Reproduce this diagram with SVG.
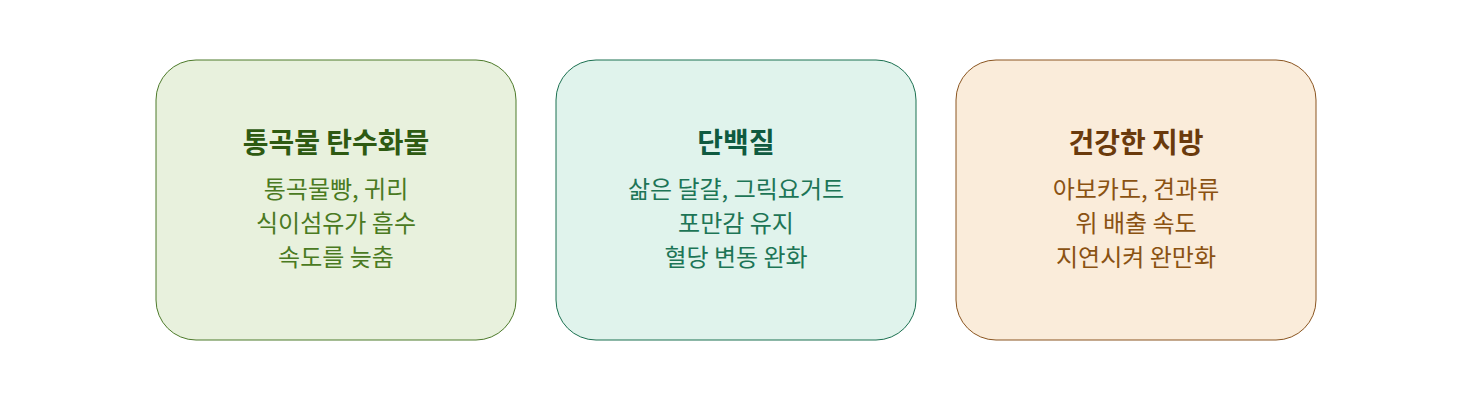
<svg xmlns="http://www.w3.org/2000/svg" width="1472" height="400" viewBox="0 0 1472 400">
<style>
.t{font-family:"Noto Sans CJK KR","Noto Sans",sans-serif;font-size:28px;font-weight:bold;text-anchor:middle}
.b{font-family:"Noto Sans CJK KR","Noto Sans",sans-serif;font-size:24px;text-anchor:middle}
.g rect{fill:#e8f1dd;stroke:#4d7a2a}
.g .t{fill:#2e5a12}.g .b{fill:#4a7a22}
.c rect{fill:#e0f3ec;stroke:#1b7050}
.c .t{fill:#0f5a40}.c .b{fill:#1d7556}
.o rect{fill:#faecda;stroke:#8a5520}
.o .t{fill:#6a3a0c}.o .b{fill:#8a5212}
</style>
<rect width="1472" height="400" fill="#ffffff"/>
<g id="node-carbs" class="g">
<rect x="156" y="60" width="360" height="280" rx="40" ry="40" stroke-width="1"/>
<text class="t" x="336" y="152.5">통곡물 탄수화물</text>
<text class="b" x="336" y="198">통곡물빵, 귀리</text>
<text class="b" x="336" y="232">식이섬유가 흡수</text>
<text class="b" x="336" y="266">속도를 늦춤</text>
</g>
<g id="node-protein" class="c">
<rect x="556" y="60" width="360" height="280" rx="40" ry="40" stroke-width="1"/>
<text class="t" x="736" y="152.5">단백질</text>
<text class="b" x="736" y="198">삶은 달걀, 그릭요거트</text>
<text class="b" x="736" y="232">포만감 유지</text>
<text class="b" x="736" y="266">혈당 변동 완화</text>
</g>
<g id="node-fat" class="o">
<rect x="956" y="60" width="360" height="280" rx="40" ry="40" stroke-width="1"/>
<text class="t" x="1136" y="152.5">건강한 지방</text>
<text class="b" x="1136" y="198">아보카도, 견과류</text>
<text class="b" x="1136" y="232">위 배출 속도</text>
<text class="b" x="1136" y="266">지연시켜 완만화</text>
</g>
<g id="connectors"></g>
</svg>
